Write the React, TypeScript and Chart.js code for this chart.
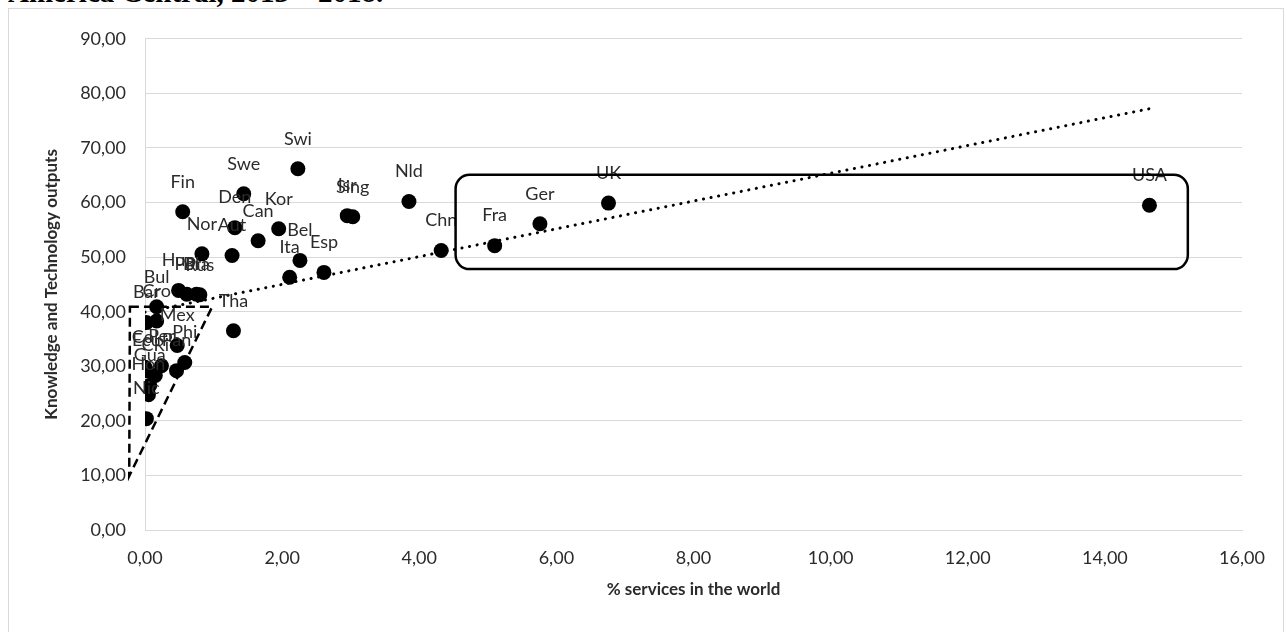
import React, { useEffect, useRef } from "react";
import { Chart, registerables } from "chart.js";

Chart.register(...registerables);

// ---- data ----
const countries = [
  "Swi", "Swe", "Fin", "Den", "Kor", "Can", "Nor", "Aut", "Bel", "Ita", "Esp",
  "Isr", "Sing", "Nld", "Chn", "Fra", "Ger", "UK", "USA",
  "Hun", "Pol", "Bra", "Rus", "Bul", "Bar", "Cro", "Tha", "Mex", "Phi", "Pan",
  "Per", "Col", "Ecu", "CRi", "Gua", "Hon", "Nic",
];
const servicesShare = [
  2.23, 1.44, 0.55, 1.31, 1.95, 1.65, 0.83, 1.27, 2.26, 2.11, 2.61,
  2.95, 3.03, 3.85, 4.32, 5.10, 5.76, 6.76, 14.65,
  0.49, 0.61, 0.75, 0.80, 0.17, 0.02, 0.17, 1.29, 0.47, 0.58, 0.46,
  0.24, 0.0, 0.02, 0.15, 0.07, 0.05, 0.02,
];
const ktOutputs = [
  66.2, 61.6, 58.3, 55.4, 55.2, 53.0, 50.6, 50.3, 49.4, 46.3, 47.2,
  57.6, 57.4, 60.2, 51.2, 52.1, 56.1, 59.9, 59.5,
  43.9, 43.2, 43.2, 43.1, 40.9, 38.0, 38.3, 36.5, 33.8, 30.7, 29.2,
  30.1, 29.8, 29.2, 28.3, 26.5, 24.8, 20.4,
];

// annotation shapes (data coordinates)
const highlightBoxX = [4.53, 15.21];
const highlightBoxY = [65.1, 47.8];
const clusterOutlineX = [-0.22, 0.98, -0.23];
const clusterOutlineY = [40.9, 40.9, 9.9];

const xAxisMax = 16;
const yAxisMax = 90;
const xStep = 2;
const yStep = 10;

const FONT = "Lato, 'Open Sans', sans-serif";
const TEXT = "#2b2b2b";

// ---- linear trend (least squares) from the data ----
const n = servicesShare.length;
const meanX = servicesShare.reduce((a, b) => a + b, 0) / n;
const meanY = ktOutputs.reduce((a, b) => a + b, 0) / n;
let sxy = 0;
let sxx = 0;
for (let i = 0; i < n; i++) {
  sxy += (servicesShare[i] - meanX) * (ktOutputs[i] - meanY);
  sxx += (servicesShare[i] - meanX) ** 2;
}
const slope = sxy / sxx;
const intercept = meanY - slope * meanX;
const trendXs = [Math.min(...servicesShare), Math.max(...servicesShare)];

const fmt = (v: number | string) => Number(v).toFixed(2).replace(".", ",");

const overlayPlugin = {
  id: "overlay",
  afterDatasetsDraw(chart: any) {
    const { ctx } = chart;
    const xs = chart.scales.x;
    const ys = chart.scales.y;
    ctx.save();
    // data labels above points
    const meta = chart.getDatasetMeta(0);
    ctx.font = `18px ${FONT}`;
    ctx.fillStyle = TEXT;
    ctx.textAlign = "center";
    ctx.textBaseline = "middle";
    meta.data.forEach((pt: any, i: number) => {
      ctx.fillText(countries[i], pt.x, pt.y - 30);
    });
    // dashed outline around the small-economy cluster
    ctx.strokeStyle = "#000";
    ctx.lineWidth = 2.5;
    ctx.setLineDash([9, 5]);
    ctx.beginPath();
    clusterOutlineX.forEach((vx, i) => {
      const px = xs.getPixelForValue(vx);
      const py = ys.getPixelForValue(clusterOutlineY[i]);
      if (i === 0) ctx.moveTo(px, py);
      else ctx.lineTo(px, py);
    });
    ctx.closePath();
    ctx.stroke();
    // rounded box around big economies
    ctx.setLineDash([]);
    const l = xs.getPixelForValue(highlightBoxX[0]);
    const r = xs.getPixelForValue(highlightBoxX[1]);
    const t = ys.getPixelForValue(highlightBoxY[0]);
    const b = ys.getPixelForValue(highlightBoxY[1]);
    ctx.beginPath();
    ctx.roundRect(l, t, r - l, b - t, 14);
    ctx.stroke();
    ctx.restore();
  },
};

export default function App() {
  const ref = useRef<HTMLCanvasElement>(null);

  useEffect(() => {
    const canvas = ref.current;
    if (!canvas) return;
    const chart = new Chart(canvas, {
      type: "scatter",
      data: {
        datasets: [
          {
            label: "Countries",
            data: servicesShare.map((x, i) => ({ x, y: ktOutputs[i] })),
            backgroundColor: "#000",
            borderColor: "#000",
            pointRadius: 7.5,
            pointHoverRadius: 7.5,
            borderWidth: 0,
          },
          {
            label: "Trend",
            data: trendXs.map((x) => ({ x, y: intercept + slope * x })),
            showLine: true,
            pointRadius: 0,
            borderColor: "#000",
            borderWidth: 3,
            borderDash: [0.1, 7.6],
            borderCapStyle: "round",
            fill: false,
          } as any,
        ],
      },
      options: {
        animation: false,
        responsive: false,
        maintainAspectRatio: false,
        layout: { padding: { left: 0, right: 41, top: 28, bottom: 0 } },
        plugins: {
          legend: { display: false },
          tooltip: { enabled: false },
          title: { display: false },
        },
        scales: {
          x: {
            type: "linear",
            min: 0,
            max: xAxisMax,
            afterFit: (s: any) => {
              s.height = 102;
            },
            grid: { display: false, drawTicks: false },
            border: { display: true, color: "#d9d9d9", width: 1 },
            ticks: {
              stepSize: xStep,
              padding: 17,
              color: TEXT,
              font: { family: FONT, size: 18 },
              callback: (v: any) => fmt(v),
              maxRotation: 0,
            },
            title: {
              display: true,
              text: "% services in the world",
              color: TEXT,
              font: { family: FONT, size: 17, weight: "bold" },
              padding: { top: 0, bottom: 32 },
            },
          },
          y: {
            type: "linear",
            min: 0,
            max: yAxisMax,
            afterFit: (s: any) => {
              s.width = 136;
            },
            grid: { color: "#d9d9d9", drawTicks: false, lineWidth: 1 },
            border: { display: true, color: "#d9d9d9", width: 1 },
            ticks: {
              stepSize: yStep,
              padding: 19,
              color: TEXT,
              font: { family: FONT, size: 18 },
              callback: (v: any) => fmt(v),
            },
            title: {
              display: true,
              text: "Knowledge and Technology outputs",
              color: TEXT,
              font: { family: FONT, size: 17, weight: "bold" },
              padding: { top: 32, bottom: 0 },
            },
          },
        },
      },
      plugins: [overlayPlugin],
    } as any);
    return () => chart.destroy();
  }, []);

  return (
    <div
      style={{
        position: "fixed",
        left: 0,
        top: 0,
        width: 1286,
        height: 632,
        overflow: "hidden",
        background: "#fff",
      }}
    >
      <div
        style={{
          position: "absolute",
          left: 8,
          top: -22,
          fontFamily: "'Liberation Serif', 'Times New Roman', serif",
          fontWeight: "bold",
          fontSize: 29,
          lineHeight: "29px",
          whiteSpace: "nowrap",
          color: "#000",
        }}
      >
        América Central, 2013 – 2018.
      </div>
      <div
        style={{
          position: "absolute",
          left: 8,
          top: 8,
          width: 1276,
          height: 700,
          boxSizing: "border-box",
          border: "1px solid #d9d9d9",
          background: "#fff",
        }}
      >
        <canvas
          ref={ref}
          width={1274}
          height={623}
          style={{ display: "block", width: 1274, height: 623 }}
        />
      </div>
    </div>
  );
}
